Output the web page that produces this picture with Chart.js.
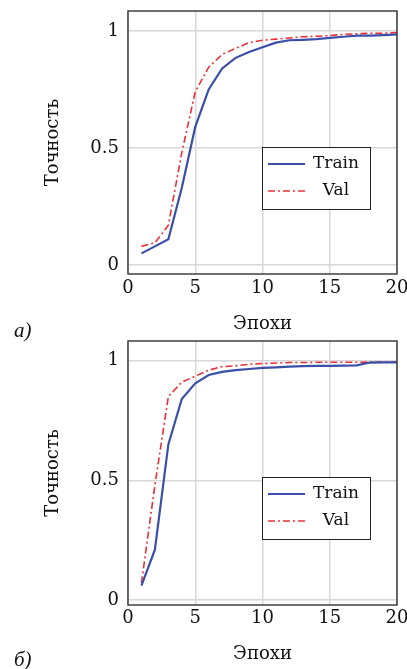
<!DOCTYPE html>
<html lang="ru">
<head>
<meta charset="utf-8">
<script src="https://cdn.jsdelivr.net/npm/chart.js@4"></script>
<style>
  body { margin: 0; background: #fff; }
  canvas { position: absolute; left: 0; }
  .tag { position: absolute; left: 14px; font: italic 21px "Liberation Serif", serif; color: #111; }
</style>
</head>
<body>
<canvas id="chartA" width="407" height="338" style="top:0"></canvas>
<canvas id="chartB" width="407" height="331" style="top:338px"></canvas>
<div class="tag" style="top:318px">а)</div>
<div class="tag" style="top:647px">б)</div>
<script>
const epochs = [1, 2, 3, 4, 5, 6, 7, 8, 9, 10, 11, 12, 13, 14, 15, 16, 17, 18, 19, 20];

// panel а)
const trainA = [0.05, 0.08, 0.11, 0.33, 0.59, 0.75, 0.84, 0.885, 0.91, 0.93,
                0.95, 0.96, 0.962, 0.965, 0.97, 0.975, 0.98, 0.98, 0.982, 0.985];
const valA = [0.08, 0.095, 0.17, 0.48, 0.74, 0.845, 0.9, 0.925, 0.95, 0.96,
              0.965, 0.97, 0.975, 0.977, 0.98, 0.985, 0.988, 0.99, 0.99, 0.993];

// panel б)
const trainB = [0.06, 0.21, 0.65, 0.84, 0.905, 0.94, 0.953, 0.96, 0.965, 0.97,
                0.972, 0.975, 0.977, 0.978, 0.978, 0.979, 0.98, 0.992, 0.993, 0.993];
const valB = [0.07, 0.48, 0.85, 0.91, 0.935, 0.96, 0.975, 0.978, 0.985, 0.988,
              0.99, 0.992, 0.992, 0.993, 0.993, 0.993, 0.993, 0.994, 0.994, 0.994];

const xTicks = [0, 5, 10, 15, 20];
const yTicks = [0, 0.5, 1];
const seriesNames = ["Train", "Val"];

Chart.defaults.font.family = '"DejaVu Serif", serif';
Chart.defaults.font.size = 18;
Chart.defaults.color = "#111";

const framePlugin = {
  id: "frame",
  afterDraw(chart) {
    const { ctx, chartArea: a } = chart;
    ctx.save();
    ctx.strokeStyle = "#333";
    ctx.lineWidth = 1.4;
    ctx.strokeRect(a.left, a.top, a.right - a.left, a.bottom - a.top);

    // legend box inside the plot
    const bx = a.left + 134;
    const by = a.top + 136;
    ctx.fillStyle = "#fff";
    ctx.fillRect(bx, by, 108, 62);
    ctx.lineWidth = 1;
    ctx.strokeStyle = "#222";
    ctx.strokeRect(bx + 0.5, by + 0.5, 108, 62);

    chart.data.datasets.forEach((ds, i) => {
      const y = by + 17 + i * 27;
      ctx.strokeStyle = ds.borderColor;
      ctx.lineWidth = ds.borderWidth;
      ctx.setLineDash(ds.borderDash || []);
      ctx.beginPath();
      ctx.moveTo(bx + 6, y);
      ctx.lineTo(bx + 43, y);
      ctx.stroke();
      ctx.setLineDash([]);
      ctx.fillStyle = "#111";
      ctx.font = '17px "DejaVu Serif"';
      ctx.textAlign = "center";
      ctx.textBaseline = "middle";
      ctx.fillText(ds.label, bx + 74, y);
    });
    ctx.restore();
  }
};

// drop the label overhang padding so the plot box lands where we want it
function noOverhang(scale) {
  scale.paddingTop = 0;
  scale.paddingBottom = 0;
  scale.paddingLeft = 0;
  scale.paddingRight = 0;
}

function makePanel(canvasId, train, val, yMin, yMax, padTop, tickPad, titlePad) {
  const points = values => epochs.map((e, i) => ({ x: e, y: values[i] }));

  return new Chart(document.getElementById(canvasId), {
    type: "line",
    data: {
      datasets: [{
        label: seriesNames[0],
        data: points(train),
        borderColor: "#3a4fa8",
        borderWidth: 2.2,
        pointRadius: 0,
        tension: 0
      }, {
        label: seriesNames[1],
        data: points(val),
        borderColor: "#ec2f36",
        borderWidth: 1.6,
        borderDash: [7, 3, 2, 3],
        pointRadius: 0,
        tension: 0
      }]
    },
    options: {
      responsive: false,
      animation: false,
      devicePixelRatio: 1,
      layout: { padding: { top: padTop, right: 10, bottom: 0, left: 0 } },
      plugins: { legend: { display: false }, tooltip: { enabled: false } },
      scales: {
        x: {
          type: "linear",
          min: 0,
          max: 20,
          afterBuildTicks: scale => { scale.ticks = xTicks.map(v => ({ value: v })); },
          afterFit: scale => { scale.height = 64; noOverhang(scale); },
          ticks: { padding: tickPad },
          grid: { color: "#d8d8d8", lineWidth: 1.5, drawTicks: false },
          border: { display: false },
          title: { display: true, text: "Эпохи", padding: { top: 0, bottom: titlePad } }
        },
        y: {
          min: yMin,
          max: yMax,
          afterBuildTicks: scale => { scale.ticks = yTicks.map(v => ({ value: v })); },
          afterFit: scale => { scale.width = 128; noOverhang(scale); },
          ticks: { padding: 9, callback: v => String(v) },
          grid: { color: "#d8d8d8", lineWidth: 1.5, drawTicks: false },
          border: { display: false },
          title: { display: true, text: "Точность", padding: { top: 43, bottom: 0 } }
        }
      }
    },
    plugins: [framePlugin]
  });
}

makePanel("chartA", trainA, valA, -0.038, 1.085, 11, 4, 3);
makePanel("chartB", trainB, valB, -0.021, 1.082, 3, 3, 4);
</script>
</body>
</html>
